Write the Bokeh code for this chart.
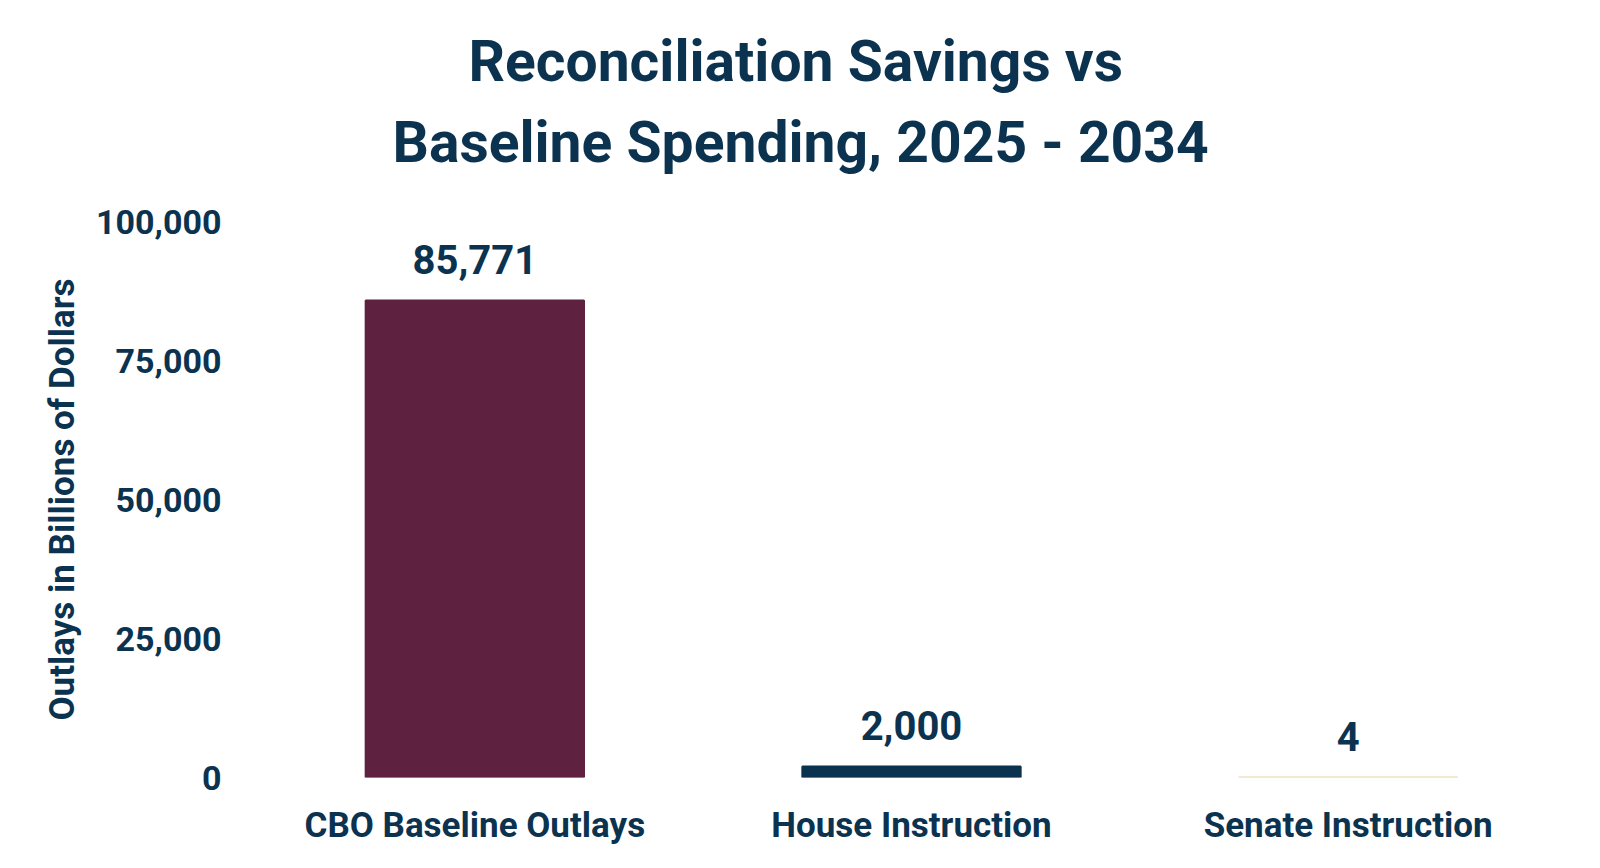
from bokeh.plotting import figure
from bokeh.models import ColumnDataSource, LabelSet, FixedTicker, NumeralTickFormatter, Range1d, Title
from bokeh.core.properties import value
from bokeh.embed import file_html
from bokeh.resources import INLINE

categories = ["CBO Baseline Outlays", "House Instruction", "Senate Instruction"]
outlays = [85771, 2000, 4]
bar_colors = ["#5e2140", "#0b3350", "#e3d6a4"]
y_ticks = [0, 25000, 50000, 75000, 100000]

TEXT = "#0b3350"
FONT = "Roboto"

src = ColumnDataSource(data=dict(
    cat=categories,
    val=outlays,
    color=bar_colors,
    label=[f"{v:,}" for v in outlays],
))

p = figure(x_range=categories, y_range=Range1d(0, 100000),
           width=1584, height=852, output_backend="svg", toolbar_location=None,
           min_border_left=256, min_border_right=18, min_border_bottom=75,
           min_border_top=221)

# title, two lines (bottom line added first); standoffs pull line 1 down
# onto line 2 and keep line 2 clear of the plot
p.title.visible = False
t2 = Title(text="Baseline Spending, 2025 - 2034", align="left", offset=136,
           text_font=FONT, text_font_size="57px", text_font_style="bold",
           text_color=TEXT, standoff=92)
t1 = Title(text="Reconciliation Savings vs", align="left", offset=212,
           text_font=FONT, text_font_size="57px", text_font_style="bold",
           text_color=TEXT, standoff=-69)
p.add_layout(t2, "above")
p.add_layout(t1, "above")

p.vbar(x="cat", top="val", width=0.5, source=src,
       fill_color="color", line_color="color", line_width=2)

labels = LabelSet(x="cat", y="val", text="label", source=src,
                  text_align="center", text_baseline="middle", y_offset=41,
                  text_font=value(FONT), text_font_size="40px",
                  text_font_style="bold", text_color=TEXT)
p.add_layout(labels)

p.yaxis.ticker = FixedTicker(ticks=y_ticks)
p.yaxis.formatter = NumeralTickFormatter(format="0,0")
p.yaxis.axis_label = "Outlays in Billions of Dollars"
p.yaxis.axis_label_text_font = FONT
p.yaxis.axis_label_text_font_size = "35px"
p.yaxis.axis_label_text_font_style = "bold"
p.yaxis.axis_label_text_color = TEXT
p.yaxis.axis_label_standoff = 10
p.yaxis.major_label_standoff = 29

for ax in (p.xaxis, p.yaxis):
    ax.axis_line_color = None
    ax.major_tick_line_color = None
    ax.minor_tick_line_color = None
    ax.major_label_text_font = FONT
    ax.major_label_text_font_style = "bold"
    ax.major_label_text_color = TEXT
p.yaxis.major_label_text_font_size = "34px"
p.xaxis.major_label_text_font_size = "35px"
p.xaxis.major_label_standoff = 21

p.xgrid.grid_line_color = None
p.ygrid.grid_line_color = None
p.outline_line_color = None
p.x_range.range_padding = 0

open("out.html", "w").write(file_html(p, INLINE))
